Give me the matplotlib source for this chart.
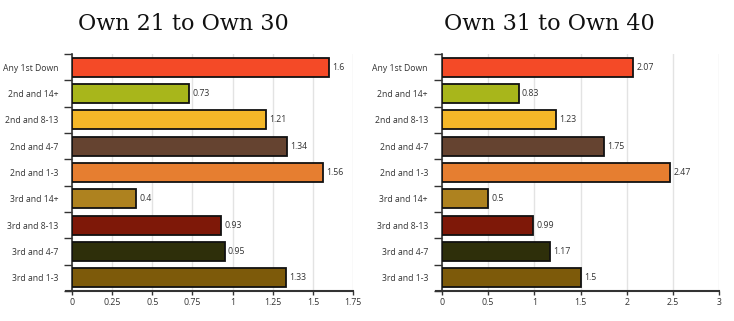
import matplotlib
matplotlib.use("Agg")
from matplotlib import pyplot as plt
import numpy as np

# chart data
situations = ["Any 1st Down", "2nd and 14+", "2nd and 8-13", "2nd and 4-7", "2nd and 1-3",
              "3rd and 14+", "3rd and 8-13", "3rd and 4-7", "3rd and 1-3"]
own21_30 = [1.6, 0.73, 1.21, 1.34, 1.56, 0.4, 0.93, 0.95, 1.33]
own31_40 = [2.07, 0.83, 1.23, 1.75, 2.47, 0.5, 0.99, 1.17, 1.5]
colors = ["#F44A27", "#A8B61B", "#F4B728", "#654330", "#E67E30",
          "#AE821F", "#7E1808", "#2E2F0A", "#7D5A0A"]

ticks_left = [0, 0.25, 0.5, 0.75, 1, 1.25, 1.5, 1.75]
ticks_right = [0, 0.5, 1, 1.5, 2, 2.5, 3]

plt.rcParams['font.family'] = ['Open Sans', 'DejaVu Sans']

fig = plt.figure(figsize=(7.34, 3.21), dpi=100)
ax1 = fig.add_axes([0.098, 0.093, 0.383, 0.739])
ax2 = fig.add_axes([0.602, 0.093, 0.378, 0.739])


def tick_fmt(v):
    return f"{v:g}"


def draw(ax, values, ticks):
    y = np.arange(len(situations))
    ax.barh(y, values, height=0.72, color=colors, edgecolor="#111111", linewidth=1.3, zorder=3)
    for yi, v in zip(y, values):
        ax.text(v + ticks[-1] * 0.012, yi, tick_fmt(v), va="center", ha="left",
                fontsize=6.3, color="#333333", zorder=4)
    ax.set_ylim(len(situations) - 0.5, -0.5)
    ax.set_xlim(0, ticks[-1])
    ax.set_xticks(ticks)
    ax.set_xticklabels([tick_fmt(t) for t in ticks], fontsize=6.3, color="#333333")
    ax.set_yticks(y)
    ax.set_yticklabels(situations, fontsize=6.2, color="#333333")
    ax.tick_params(axis="y", length=0, pad=10)
    ax.set_yticks(np.arange(len(situations) + 1) - 0.5, minor=True)
    ax.tick_params(axis="y", which="minor", length=6, width=1, color="#333333")
    ax.tick_params(axis="x", length=3, width=1, color="#333333", pad=2)
    ax.grid(axis="x", color="#e3e3e3", linewidth=1, zorder=0)
    for s in ["top", "right"]:
        ax.spines[s].set_visible(False)
    ax.spines["left"].set_color("#333333")
    ax.spines["bottom"].set_color("#333333")
    ax.spines["left"].set_linewidth(1.2)
    ax.spines["bottom"].set_linewidth(1.5)
    ax.spines["bottom"].set_bounds(-ticks[-1] * 0.022, ticks[-1])


draw(ax1, own21_30, ticks_left)
draw(ax2, own31_40, ticks_right)

fig.text(0.25, 0.907, "Own 21 to Own 30", ha="center", va="baseline",
         fontsize=16, family="DejaVu Serif", color="#111111")
fig.text(0.748, 0.907, "Own 31 to Own 40", ha="center", va="baseline",
         fontsize=16, family="DejaVu Serif", color="#111111")

fig.savefig("out.png", dpi=100)
